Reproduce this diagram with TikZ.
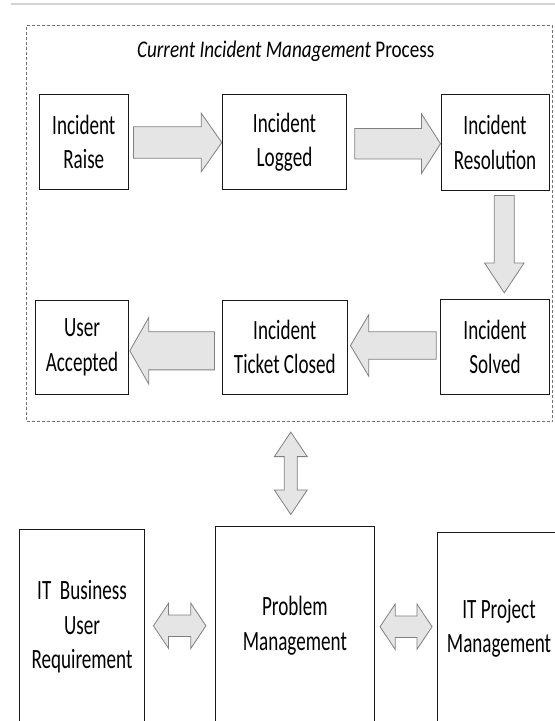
\documentclass[tikz,border=0pt]{standalone}
\usepackage{fontspec}
\setmainfont{Carlito}[FakeStretch=0.685]
\newfontfamily\headingfont{Carlito}[FakeStretch=0.8]
\usetikzlibrary{calc}

\tikzset{
  stepbox/.style={draw=black!90, line width=1bp, fill=white, inner sep=0pt,
    align=center, text=black, font=\fontsize{28}{34.5}\selectfont},
  blockarrow/.style={draw=black!50, fill=black!10, line width=0.8bp, line join=miter},
  dashedframe/.style={draw=black!55, dash pattern=on 3bp off 2bp, line width=0.8bp, inner sep=0pt},
  titletext/.style={text=black, font=\headingfont\fontsize{24}{28}\selectfont, anchor=base},
}

% block arrow along x: tail point, tip point, shaft half width, head half width, head length
\newcommand\harrow[5]{%
  \draw[blockarrow] let \p1=(#1), \p2=(#2), \n1={ifthenelse(\x2>\x1,1,-1)*#5} in
    (\x1,{\y1+#3}) -- ({\x2-(\n1)},{\y1+#3}) -- ({\x2-(\n1)},{\y1+#4}) -- (\x2,\y1)
    -- ({\x2-(\n1)},{\y1-#4}) -- ({\x2-(\n1)},{\y1-#3}) -- (\x1,{\y1-#3}) -- cycle;}
% block arrow along y
\newcommand\varrow[5]{%
  \draw[blockarrow] let \p1=(#1), \p2=(#2), \n1={ifthenelse(\y2>\y1,1,-1)*#5} in
    ({\x1+#3},\y1) -- ({\x1+#3},{\y2-(\n1)}) -- ({\x1+#4},{\y2-(\n1)}) -- (\x1,\y2)
    -- ({\x1-#4},{\y2-(\n1)}) -- ({\x1-#3},{\y2-(\n1)}) -- ({\x1-#3},\y1) -- cycle;}
% double-headed block arrow along x
\newcommand\dharrow[5]{%
  \draw[blockarrow] let \p1=(#1), \p2=(#2), \n1={ifthenelse(\x2>\x1,1,-1)*#5} in
    (\x1,\y1) -- ({\x1+(\n1)},{\y1+#4}) -- ({\x1+(\n1)},{\y1+#3})
    -- ({\x2-(\n1)},{\y1+#3}) -- ({\x2-(\n1)},{\y1+#4}) -- (\x2,\y1)
    -- ({\x2-(\n1)},{\y1-#4}) -- ({\x2-(\n1)},{\y1-#3})
    -- ({\x1+(\n1)},{\y1-#3}) -- ({\x1+(\n1)},{\y1-#4}) -- cycle;}
% double-headed block arrow along y
\newcommand\dvarrow[5]{%
  \draw[blockarrow] let \p1=(#1), \p2=(#2), \n1={ifthenelse(\y2>\y1,1,-1)*#5} in
    (\x1,\y1) -- ({\x1+#4},{\y1+(\n1)}) -- ({\x1+#3},{\y1+(\n1)})
    -- ({\x1+#3},{\y2-(\n1)}) -- ({\x1+#4},{\y2-(\n1)}) -- (\x1,\y2)
    -- ({\x1-#4},{\y2-(\n1)}) -- ({\x1-#3},{\y2-(\n1)})
    -- ({\x1-#3},{\y1+(\n1)}) -- ({\x1-#4},{\y1+(\n1)}) -- cycle;}

\begin{document}
\begin{tikzpicture}[x=1bp,y=-1bp]
\useasboundingbox (0,0) rectangle (555,721);
\clip (0,0) rectangle (555,721);

% rule along the top edge
\draw[black!17, line width=2bp] (11,4) -- (555,4);

% dashed process frame and its heading
\node[dashedframe, minimum width=526bp, minimum height=396.2bp] (frame) at (289.7,223.6) {};
\node[titletext] (title) at (285.7,57.7) {\textit{Current Incident Management} Process};

% incident process steps
\node[stepbox, minimum width=89bp,    minimum height=94bp]   (raise)      at (83.8,142)    {Incident\\Raise};
\node[stepbox, minimum width=124.5bp, minimum height=94bp]   (logged)     at (284.55,142)  {Incident\\Logged};
\node[stepbox, minimum width=108bp,   minimum height=95bp]   (resolution) at (495,142.5)   {Incident\\Resolution};
\node[stepbox, minimum width=108.6bp, minimum height=94.7bp] (solved)     at (495,346.7)   {Incident\\Solved};
\node[stepbox, minimum width=125bp,   minimum height=94.3bp] (closed)     at (284.8,347.2) {Incident\\Ticket Closed};
\node[stepbox, minimum width=92.6bp,  minimum height=94.3bp] (accepted)   at (82,347.2)    {User\\Accepted};

% related areas (boxes run off the lower edge)
\node[stepbox, minimum width=124.9bp, minimum height=195.4bp] (bizreq) at (82,626.7)    {IT~~Business\\User\\Requirement};
\node[stepbox, minimum width=159.3bp, minimum height=198.2bp] (prob)   at (294.85,625.8) {Problem\\Management};
\node[stepbox, minimum width=123.6bp, minimum height=191.4bp] (proj)   at (499,628)     {IT Project\\Management};

% process flow
\harrow{$(raise.east)+(4.7,0.5)$}{logged.west}{15.8}{29.5}{20.7}
\harrow{$(logged.east)+(7.5,1.7)$}{resolution.west}{15.35}{29.85}{19}
\varrow{$(resolution.south)+(9.3,5)$}{$(solved.north)+(0,-6)$}{10}{19.85}{30}
\harrow{$(solved.west)+(-4,-1.2)$}{$(closed.east)+(2.7,0)$}{13.8}{30.85}{18.3}
\harrow{$(closed.west)+(-7.3,3.6)$}{$(accepted.east)+(1,0)$}{19.15}{33.35}{19}

% links to problem management
\dvarrow{$(frame.south)+(1.1,10)$}{$(prob.north)+(0,-11.7)$}{6.5}{16.5}{24.6}
\dharrow{$(bizreq.east)+(8.5,-0.9)$}{$(prob.west)+(-8.8,0)$}{10.8}{22.8}{15.2}
\dharrow{$(prob.east)+(5,0.9)$}{$(proj.west)+(-4.6,0)$}{10.8}{22.7}{15.2}
\end{tikzpicture}
\end{document}
